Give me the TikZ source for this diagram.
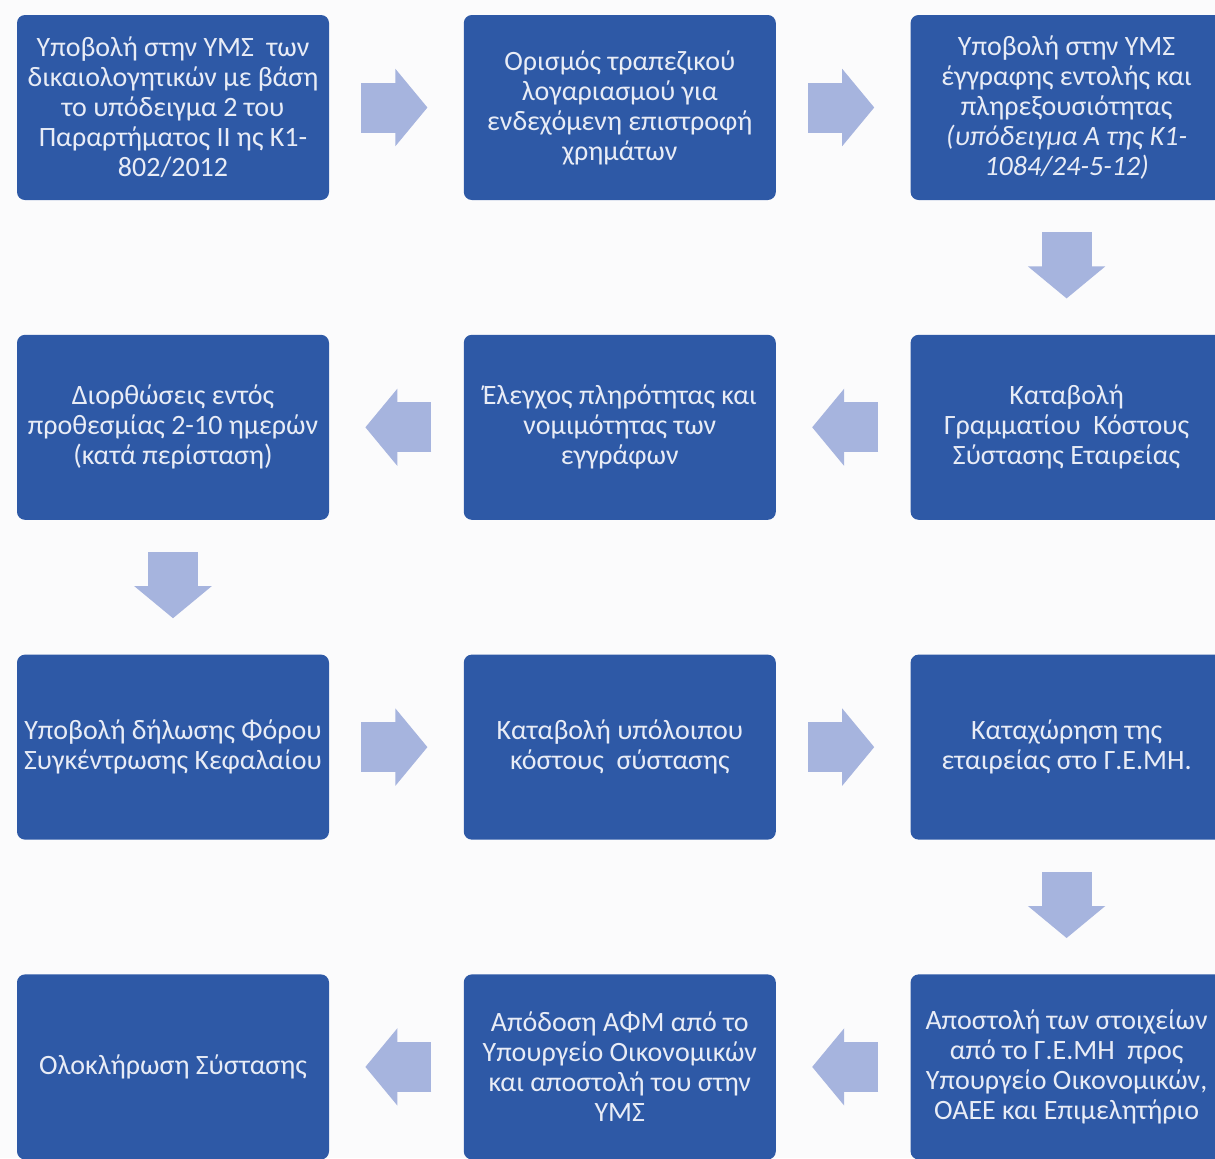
\documentclass[tikz,border=0pt]{standalone}
\usepackage{fontspec}
\setmainfont{Carlito}
\usepackage{xcolor}
\usepackage{tikz}
\usetikzlibrary{arrows.meta,positioning}
\definecolor{stblue}{RGB}{46,89,166}
\definecolor{stlight}{RGB}{166,180,222}
\definecolor{sttext}{RGB}{232,236,246}
\definecolor{stbg}{RGB}{251,251,252}
\tikzset{
  stbox/.style={
    fill=stblue,
    draw=none,
    rounded corners=4pt,
    align=center,
    minimum width=156pt,
    minimum height=92.5pt,
    inner xsep=3pt,
    inner ysep=3pt,
    text=sttext,
    font=\fontsize{14}{15}\selectfont
  },
  starrow/.style={
    draw=stlight,
    line width=25pt,
    -{Triangle[length=16pt,width=38.5pt,line width=1pt]},
    shorten <=16pt,
    shorten >=18pt
  }
}

\begin{document}
\begin{tikzpicture}[
  node distance=67pt and 67pt
]
\path[use as bounding box, fill=stbg] (0,0) rectangle (607.5pt,-579pt);
\node[stbox] (ymsdocs) at (86.5pt,-53.75pt) {Υποβολή στην ΥΜΣ \ των\\δικαιολογητικών με βάση\\το υπόδειγμα 2 του\\Παραρτήματος II ης Κ1-\\802/2012};
\node[stbox, right=of ymsdocs] (account) {Ορισμός τραπεζικού\\λογαριασμού για\\ενδεχόμενη επιστροφή\\χρημάτων};
\node[stbox, right=of account] (mandate) {Υποβολή στην ΥΜΣ\\έγγραφης εντολής και\\πληρεξουσιότητας\\\textit{(υπόδειγμα Α της Κ1-}\\\textit{1084/24-5-12)}};
\node[stbox, below=of mandate] (fee) {Καταβολή\\Γραμματίου \ Κόστους\\Σύστασης Εταιρείας};
\node[stbox, left=of fee] (check) {Έλεγχος πληρότητας και\\νομιμότητας των\\εγγράφων};
\node[stbox, left=of check] (fixes) {Διορθώσεις εντός\\προθεσμίας 2-10 ημερών\\(κατά περίσταση)};
\node[stbox, below=of fixes] (taxdecl) {Υποβολή δήλωσης Φόρου\\Συγκέντρωσης Κεφαλαίου};
\node[stbox, right=of taxdecl] (restcost) {Καταβολή υπόλοιπου\\κόστους \ σύστασης};
\node[stbox, right=of restcost] (gemi) {Καταχώρηση της\\εταιρείας στο Γ.Ε.ΜΗ.};
\node[stbox, below=of gemi] (notify) {Αποστολή των στοιχείων\\από το Γ.Ε.ΜΗ \ προς\\Υπουργείο Οικονομικών,\\ΟΑΕΕ και Επιμελητήριο};
\node[stbox, left=of notify] (afm) {Απόδοση ΑΦΜ από το\\Υπουργείο Οικονομικών\\και αποστολή του στην\\ΥΜΣ};
\node[stbox, left=of afm] (done) {Ολοκλήρωση Σύστασης};
\draw[starrow] (ymsdocs) -- (account);
\draw[starrow] (account) -- (mandate);
\draw[starrow] (mandate) -- (fee);
\draw[starrow] (fee) -- (check);
\draw[starrow] (check) -- (fixes);
\draw[starrow] (fixes) -- (taxdecl);
\draw[starrow] (taxdecl) -- (restcost);
\draw[starrow] (restcost) -- (gemi);
\draw[starrow] (gemi) -- (notify);
\draw[starrow] (notify) -- (afm);
\draw[starrow] (afm) -- (done);
\end{tikzpicture}
\end{document}
